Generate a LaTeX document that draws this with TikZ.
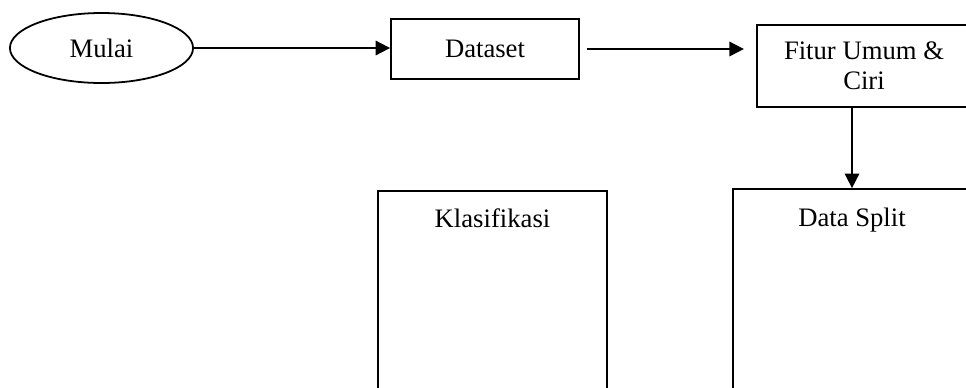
\documentclass[tikz,border=0pt]{standalone}
\usepackage{fontspec}
\setmainfont{Liberation Serif}
\usetikzlibrary{arrows.meta}
\usetikzlibrary{shapes.geometric}
\tikzset{
    flowline/.style={line width=0.8pt},
    startnode/.style={draw, flowline, ellipse, inner sep=0pt},
    procbox/.style={draw, flowline, rectangle, inner sep=0pt, align=center},
    flowarrow/.style={flowline, -{Triangle[length=6.5pt, width=6.5pt]}}
}

\begin{document}
\begin{tikzpicture}[x=0.45pt, y=-0.45pt, every node/.style={font=\fontsize{12}{13.6}\selectfont}]
    \clip (0,0) rectangle (966,387);
    % top row
    \node[startnode, minimum width=82.4pt, minimum height=31.5pt] (mulai) at (101.5, 48) {Mulai};
    \node[procbox, minimum width=84.6pt, minimum height=27pt] (dataset) at (485, 49) {Dataset};
    \node[procbox, minimum width=96.3pt, minimum height=36.9pt] (fitur) at (864, 66) {Fitur Umum \&\\Ciri};
    % bottom row, boxes run past the lower edge
    \node[procbox, minimum width=103pt, minimum height=108pt,
          label={[anchor=north, yshift=-4.7pt]north:Klasifikasi}] (klasifikasi) at (492.5, 311) {};
    \node[procbox, minimum width=107pt, minimum height=108pt,
          label={[anchor=north, yshift=-5.6pt]north:Data Split}] (split) at (852, 309) {};
    % connectors
    \draw[flowarrow] (mulai.east) -- (mulai.east -| dataset.west);
    \draw[flowarrow, shorten <=3pt, shorten >=5.5pt] (dataset.east) -- (dataset.east -| fitur.west);
    \draw[flowarrow] (split.north |- fitur.south) -- (split.north);
\end{tikzpicture}
\end{document}
